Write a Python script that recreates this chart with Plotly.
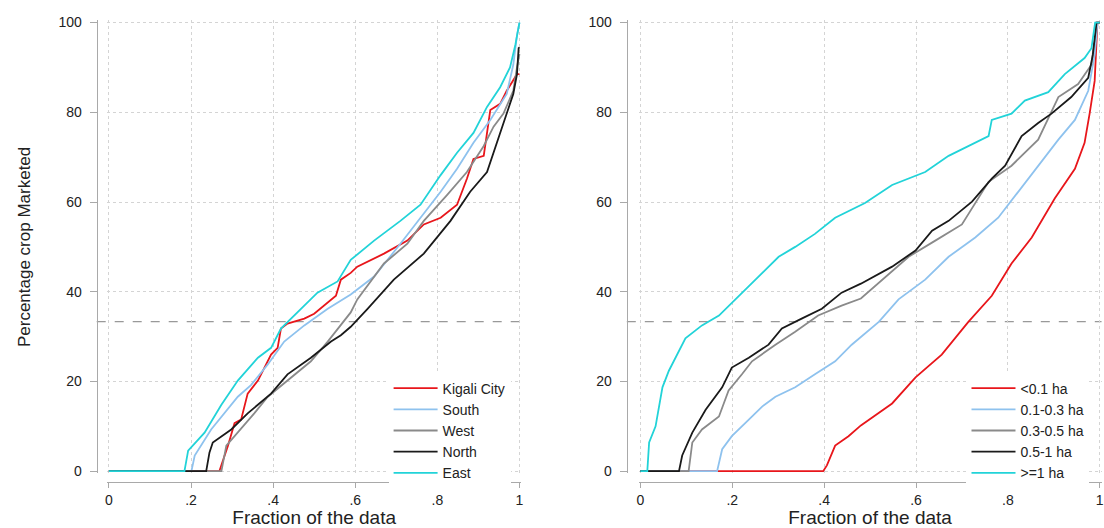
import plotly.graph_objects as go

# ---------------- data ----------------
# Left panel: by province
kigali_f = [0, .269, .290, .306, .322, .338, .363, .395, .411, .419, .435, .476, .500, .524, .553, .565, .589, .605, .670, .727, .767, .808, .848, .872, .888, .913, .929, .953, .969, .994, 1.0]
kigali_v = [0, 0, 5.7, 10.7, 11.5, 17.3, 20.2, 26, 27.5, 31.8, 32.9, 34, 35.1, 36.9, 39.1, 42.7, 44.2, 45.6, 48.5, 51.4, 55, 56.5, 59.4, 65.2, 69.6, 70.3, 80.5, 81.9, 84.8, 88.5, 88.5]

south_f = [0, .201, .209, .249, .314, .346, .387, .427, .476, .533, .589, .646, .710, .759, .808, .848, .888, .929, .969, .985, .994, 1.0]
south_v = [0, 0, 3.5, 9.3, 16.6, 19.2, 23.8, 28.9, 32.5, 36.2, 39.4, 43.4, 50.7, 56.5, 62.3, 67.4, 73.2, 78.3, 84.1, 90.6, 97.2, 100]

west_f = [0, .274, .286, .314, .354, .387, .435, .492, .533, .565, .589, .605, .670, .727, .767, .824, .872, .913, .937, .961, .985, .994, 1.0]
west_v = [0, 0, 5.7, 8.6, 12.9, 16.6, 20.2, 24.5, 28.9, 32.5, 35.4, 38.3, 46.3, 50.7, 55.8, 61.6, 66.7, 72.5, 76.8, 79.7, 84.8, 90.0, 93.0]

north_f = [0, .237, .245, .253, .298, .338, .395, .435, .492, .541, .565, .589, .630, .694, .767, .832, .880, .921, .945, .969, .985, .994, .998, 1.0]
north_v = [0, 0, 4.2, 6.4, 9.3, 12.9, 17.3, 21.6, 25.3, 28.9, 30.3, 32.2, 36.2, 42.7, 48.5, 55.8, 62.3, 66.7, 73.2, 79.7, 84.1, 88.5, 94.3, 94.5]

east_f = [0, .184, .193, .233, .274, .314, .363, .395, .419, .451, .508, .557, .589, .646, .710, .759, .808, .848, .888, .921, .953, .977, .990, 1.0]
east_v = [0, 0, 4.6, 8.6, 14.8, 20.2, 25.3, 27.5, 31.8, 34.7, 39.8, 42.3, 47.1, 51.4, 55.8, 59.4, 66, 71, 75.4, 81.2, 85.6, 90, 95, 100]

# Right panel: by farm size
lt01_f = [0, .398, .406, .424, .453, .480, .548, .599, .656, .714, .765, .808, .852, .902, .946, .967, .978, .989, .995, 1.0]
lt01_v = [0, 0, 1.3, 5.7, 7.8, 10.2, 15.1, 20.9, 26, 33.3, 39.1, 46.3, 52.1, 60.8, 67.4, 73.2, 79.7, 87, 100, 100]

s0103_f = [0, .167, .178, .199, .236, .265, .294, .337, .380, .424, .460, .480, .519, .562, .620, .671, .729, .779, .823, .866, .910, .946, .975, .989, .995, 1.0]
s0103_v = [0, 0, 4.9, 7.8, 11.5, 14.4, 16.6, 18.7, 21.6, 24.5, 28.2, 30.0, 33.3, 38.3, 42.7, 47.8, 52.1, 56.5, 62.3, 68.1, 73.9, 78.3, 84.8, 92.8, 100, 100]

s0305_f = [0, .105, .113, .134, .171, .192, .221, .243, .294, .337, .387, .438, .480, .534, .584, .642, .700, .758, .808, .866, .910, .953, .982, .993, 1.0]
s0305_v = [0, 0, 6.4, 9.3, 12.2, 18, 21.6, 24.5, 28.2, 31.1, 34.7, 36.9, 38.5, 43.4, 47.8, 51.4, 55, 64.5, 68.1, 73.9, 83.4, 86.3, 90.6, 100, 100]

s051_f = [0, .084, .091, .113, .142, .178, .199, .236, .279, .308, .351, .395, .438, .480, .548, .599, .635, .671, .722, .765, .794, .830, .866, .895, .938, .975, .985, .993, 1.0]
s051_v = [0, 0, 3.5, 8.6, 13.7, 18.7, 23.1, 25.3, 28.2, 31.8, 34, 36.2, 39.8, 41.8, 45.6, 49.2, 53.6, 55.8, 60.1, 65.2, 68.1, 74.7, 77.6, 79.7, 83.4, 87.7, 92.8, 100, 100]

ge1_f = [0, .015, .019, .033, .048, .062, .098, .134, .171, .207, .228, .265, .301, .337, .380, .424, .489, .548, .620, .671, .714, .758, .765, .808, .837, .888, .924, .967, .982, .990, 1.0]
ge1_v = [0, 0, 6.4, 10, 18.7, 22.4, 29.6, 32.5, 34.7, 38.3, 40.5, 44.2, 47.8, 50, 52.9, 56.5, 59.8, 63.8, 66.7, 70.3, 72.5, 74.7, 78.3, 79.7, 82.6, 84.5, 88.5, 92.1, 94.3, 100, 100]

left_names = ["Kigali City", "South", "West", "North", "East"]
right_names = ["<0.1 ha", "0.1-0.3 ha", "0.3-0.5 ha", "0.5-1 ha", ">=1 ha"]
x_tickvals = [0, 0.2, 0.4, 0.6, 0.8, 1]
x_ticktext = ["0", ".2", ".4", ".6", ".8", "1"]
y_tickvals = [0, 20, 40, 60, 80, 100]
threshold = 100 / 3

colors = ["#e8161b", "#8ec2ee", "#8a8a8a", "#1a1a1a", "#22d3d8"]

left_series = [(kigali_f, kigali_v), (south_f, south_v), (west_f, west_v), (north_f, north_v), (east_f, east_v)]
right_series = [(lt01_f, lt01_v), (s0103_f, s0103_v), (s0305_f, s0305_v), (s051_f, s051_v), (ge1_f, ge1_v)]

# ---------------- figure ----------------
FONT = "Liberation Sans, Arial, sans-serif"
fig = go.Figure()

for (f, v), name, c in zip(left_series, left_names, colors):
    fig.add_trace(go.Scatter(x=f, y=v, mode="lines", name=name, line=dict(color=c, width=1.8),
                             xaxis="x", yaxis="y", legend="legend"))
for (f, v), name, c in zip(right_series, right_names, colors):
    fig.add_trace(go.Scatter(x=f, y=v, mode="lines", name=name, line=dict(color=c, width=1.8),
                             xaxis="x2", yaxis="y2", legend="legend2"))

W, H = 1104, 528
ydom = [0.0941, 0.9722]
xdom1 = [0.0957, 0.4719]
xdom2 = [0.5787, 0.9996]
xpos = 0.0777
ypos1 = 0.0861
ypos2 = 0.568

axcol = "#a9a9a9"
gridcol = "#d4d4d4"
common_x = dict(range=[-0.004, 1.004], tickmode="array", tickvals=x_tickvals, ticktext=x_ticktext,
                showline=True, linecolor=axcol, linewidth=1.3, ticks="outside", ticklen=5,
                tickcolor=axcol, tickwidth=1.3, showgrid=True, gridcolor=gridcol, griddash="dot",
                gridwidth=1, zeroline=False, anchor="free", position=xpos,
                tickfont=dict(family=FONT, size=14, color="#222"),
                title=dict(text="Fraction of the data", font=dict(family=FONT, size=19, color="#222"), standoff=3))
common_y = dict(range=[-0.5, 100.5], tickmode="array", tickvals=y_tickvals,
                showline=True, linecolor=axcol, linewidth=1.3, ticks="outside", ticklen=7,
                tickcolor=axcol, tickwidth=1.3, showgrid=True, gridcolor=gridcol, griddash="dot",
                gridwidth=1, zeroline=False, anchor="free", domain=ydom,
                tickfont=dict(family=FONT, size=14, color="#222"), ticklabelstandoff=5)

fig.update_layout(
    width=W, height=H, margin=dict(l=0, r=0, t=0, b=0),
    paper_bgcolor="white", plot_bgcolor="white",
    xaxis=dict(domain=xdom1, **common_x),
    xaxis2=dict(domain=xdom2, **common_x),
    yaxis=dict(position=ypos1, title=dict(text="Percentage crop Marketed",
                                          font=dict(family=FONT, size=17, color="#222"), standoff=22),
               **common_y),
    yaxis2=dict(position=ypos2, **common_y),
    legend=dict(x=388 / W, y=1 - 375 / H, xanchor="left", yanchor="top", bgcolor="rgba(255,255,255,1)",
                borderwidth=0, font=dict(family=FONT, size=14, color="#222"), itemwidth=44,
                tracegroupgap=0),
    legend2=dict(x=968 / W, y=1 - 375 / H, xanchor="left", yanchor="top", bgcolor="rgba(255,255,255,1)",
                 borderwidth=0, font=dict(family=FONT, size=14, color="#222"), itemwidth=44,
                 tracegroupgap=0),
    showlegend=True,
)

# dashed reference line at one third
fig.add_shape(type="line", xref="paper", yref="y", x0=ypos1, x1=xdom1[1], y0=threshold, y1=threshold,
              line=dict(color="#999999", width=1.3, dash="dash"), layer="below")
fig.add_shape(type="line", xref="paper", yref="y2", x0=ypos2, x1=xdom2[1], y0=threshold, y1=threshold,
              line=dict(color="#999999", width=1.3, dash="dash"), layer="below")

fig.write_html("out.html", config={"displayModeBar": False},
               post_script="document.body.style.margin='0';document.body.style.overflow='hidden';")
